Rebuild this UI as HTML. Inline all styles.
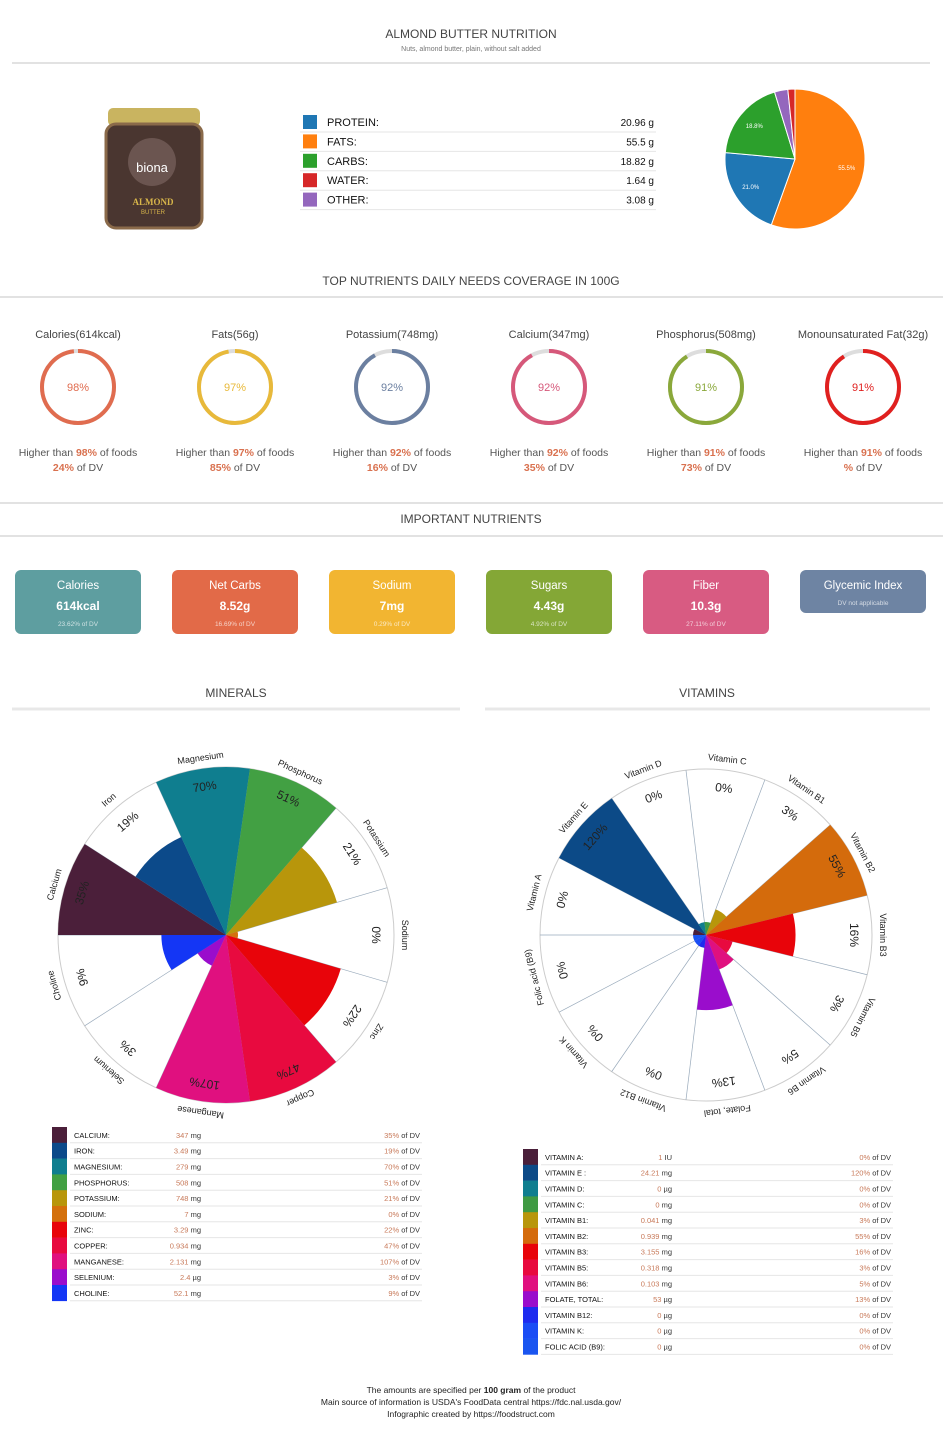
<!DOCTYPE html>
<html><head><meta charset="utf-8"><title>Almond Butter Nutrition</title>
<style>
html,body{margin:0;padding:0;background:#fff;}
svg{display:block;font-family:"Liberation Sans",sans-serif;}
</style></head>
<body>
<svg id="root" width="950" height="1435" viewBox="0 0 950 1435" xmlns="http://www.w3.org/2000/svg">
  <text x="471" y="38" text-anchor="middle" font-size="12" fill="#444">ALMOND BUTTER NUTRITION</text>
  <text x="471" y="51" text-anchor="middle" font-size="7" fill="#777">Nuts, almond butter, plain, without salt added</text>
  <line x1="12" y1="63" x2="930" y2="63" stroke="#e2e2e2" stroke-width="2"/>

  <g>
    <rect x="108" y="108" width="92" height="18" rx="5" fill="#c9b460"/>
    <rect x="106" y="124" width="96" height="104" rx="10" fill="#4a3630"/>
    <rect x="106" y="124" width="96" height="104" rx="10" fill="none" stroke="#8a6a4a" stroke-width="3"/>
    <circle cx="152" cy="162" r="24" fill="#6b5550"/>
    <text x="152" y="172" text-anchor="middle" font-size="13" fill="#fff">biona</text>
    <text x="153" y="205" text-anchor="middle" font-size="9" font-weight="bold" fill="#d8b64a" font-family="Liberation Serif, serif">ALMOND</text>
    <text x="153" y="214" text-anchor="middle" font-size="6" fill="#d8b64a">BUTTER</text>
  </g>

  <g id="macros"></g>
  <g id="pie"></g>

  <text x="471" y="285" text-anchor="middle" font-size="12" fill="#444">TOP NUTRIENTS DAILY NEEDS COVERAGE IN 100G</text>
  <line x1="0" y1="297" x2="943" y2="297" stroke="#e2e2e2" stroke-width="2"/>
  <g id="rings"></g>
  <line x1="0" y1="503" x2="943" y2="503" stroke="#e2e2e2" stroke-width="2"/>

  <text x="471" y="523" text-anchor="middle" font-size="12" fill="#444">IMPORTANT NUTRIENTS</text>
  <line x1="0" y1="536" x2="943" y2="536" stroke="#e2e2e2" stroke-width="2"/>
  <g id="cards"></g>

  <text x="236" y="697" text-anchor="middle" font-size="12" fill="#444">MINERALS</text>
  <line x1="12" y1="709" x2="460" y2="709" stroke="#e8e8e8" stroke-width="3"/>
  <text x="707" y="697" text-anchor="middle" font-size="12" fill="#444">VITAMINS</text>
  <line x1="485" y1="709" x2="930" y2="709" stroke="#e8e8e8" stroke-width="3"/>

  <g id="minPolar"></g>
  <g id="vitPolar"></g>
  <g id="minTable"></g>
  <g id="vitTable"></g>

  <g font-size="8.5" fill="#222" text-anchor="middle">
    <text x="471" y="1393">The amounts are specified per <tspan font-weight="bold">100 gram</tspan> of the product</text>
    <text x="471" y="1405">Main source of information is USDA's FoodData central https://fdc.nal.usda.gov/</text>
    <text x="471" y="1417">Infographic created by https://foodstruct.com</text>
  </g>
</svg>
<script>
const NS = "http://www.w3.org/2000/svg";
// ---- data ----
const macroNames = ["PROTEIN:", "FATS:", "CARBS:", "WATER:", "OTHER:"];
const macroValues = [20.96, 55.5, 18.82, 1.64, 3.08];
const macroColors = ["#1f77b4", "#ff7f0e", "#2ca02c", "#d62728", "#9467bd"];
const pieOrder = [1, 0, 2, 4, 3];

const ringTitles = ["Calories(614kcal)", "Fats(56g)", "Potassium(748mg)", "Calcium(347mg)", "Phosphorus(508mg)", "Monounsaturated Fat(32g)"];
const ringPercents = [98, 97, 92, 92, 91, 91];
const ringDV = ["24%", "85%", "16%", "35%", "73%", "%"];
const ringColors = ["#e06c4f", "#e8b93a", "#6b7fa0", "#d6587a", "#8aa83a", "#e0201f"];

const cardTitles = ["Calories", "Net Carbs", "Sodium", "Sugars", "Fiber", "Glycemic Index"];
const cardValues = ["614kcal", "8.52g", "7mg", "4.43g", "10.3g", ""];
const cardSubs = ["23.62% of DV", "16.69% of DV", "0.29% of DV", "4.92% of DV", "27.11% of DV", "DV not applicable"];
const cardColors = ["#5e9ea0", "#e26a48", "#f2b531", "#84a736", "#d85b82", "#6e84a3"];

const minNames = ["Calcium", "Iron", "Magnesium", "Phosphorus", "Potassium", "Sodium", "Zinc", "Copper", "Manganese", "Selenium", "Choline"];
const minPct = [35, 19, 70, 51, 21, 0, 22, 47, 107, 3, 9];
const minAmounts = ["347", "3.49", "279", "508", "748", "7", "3.29", "0.934", "2.131", "2.4", "52.1"];
const minUnits = ["mg", "mg", "mg", "mg", "mg", "mg", "mg", "mg", "mg", "µg", "mg"];
const minColors = ["#4b1f3a", "#0c4a8a", "#0f7e8f", "#42a043", "#b8960b", "#d4700c", "#e8040a", "#e80a3f", "#e0107f", "#9a0dcc", "#1436f5"];

const vitNames = ["Vitamin A", "Vitamin E", "Vitamin D", "Vitamin C", "Vitamin B1", "Vitamin B2", "Vitamin B3", "Vitamin B5", "Vitamin B6", "Folate, total", "Vitamin B12", "Vitamin K", "Folic acid (B9)"];
const vitTableNames = ["VITAMIN A:", "VITAMIN E :", "VITAMIN D:", "VITAMIN C:", "VITAMIN B1:", "VITAMIN B2:", "VITAMIN B3:", "VITAMIN B5:", "VITAMIN B6:", "FOLATE, TOTAL:", "VITAMIN B12:", "VITAMIN K:", "FOLIC ACID (B9):"];
const vitPct = [0, 120, 0, 0, 3, 55, 16, 3, 5, 13, 0, 0, 0];
const vitAmounts = ["1", "24.21", "0", "0", "0.041", "0.939", "3.155", "0.318", "0.103", "53", "0", "0", "0"];
const vitUnits = ["IU", "mg", "µg", "mg", "mg", "mg", "mg", "mg", "mg", "µg", "µg", "µg", "µg"];
const vitColors = ["#4a1f3a", "#0c4a87", "#0f7e8f", "#3f9a43", "#b8960b", "#d46b0c", "#e8040a", "#e80a3f", "#e0107f", "#9a0dcc", "#1e2bef", "#1a4df5", "#1a55f0"];

function el(tag, attrs, parent, txt) {
  const e = document.createElementNS(NS, tag);
  for (const k in attrs) e.setAttribute(k, attrs[k]);
  if (txt !== undefined) e.textContent = txt;
  parent.appendChild(e);
  return e;
}

// ---- macros table ----
const mg = document.getElementById("macros");
macroNames.forEach((n, i) => {
  const y = 122 + i * 19.4;
  const sw = el("rect", {x: 303, y: y - 7, width: 14, height: 14, fill: macroColors[i]}, mg);
  
  
  const t = el("text", {x: 327, y: y + 4, "font-size": 11, fill: "#111"}, mg, n);
  
  
  const v = el("text", {x: 654, y: y + 4, "font-size": 10, fill: "#111", "text-anchor": "end"}, mg, macroValues[i] + " g");
  
  
  const l = el("line", {x1: 300, x2: 656, y1: y + 10, y2: y + 10, stroke: "#e6e6e6"}, mg);
  
  
});

// ---- pie ----
const pg = document.getElementById("pie");
const pcx = 795, pcy = 159, pr = 70;
const total = macroValues.reduce((a, b) => a + b, 0);
let acc = 0;
function pp(a, r, cx, cy) { return [cx + r * Math.sin(a), cy - r * Math.cos(a)]; }
pieOrder.forEach(idx => {
  const a0 = acc / total * 2 * Math.PI;
  acc += macroValues[idx];
  const a1 = acc / total * 2 * Math.PI;
  const p0 = pp(a0, pr, pcx, pcy), p1 = pp(a1, pr, pcx, pcy);
  const large = (a1 - a0) > Math.PI ? 1 : 0;
  const s = el("path", {d: `M${pcx},${pcy} L${p0[0]},${p0[1]} A${pr},${pr} 0 ${large} 1 ${p1[0]},${p1[1]} Z`, fill: macroColors[idx], stroke: "#fff", "stroke-width": 1}, pg);
  
  
  const pct = macroValues[idx] / total * 100;
  if (pct > 10) {
    const lp = pp((a0 + a1) / 2, pr * 0.75, pcx, pcy);
    const t = el("text", {x: lp[0], y: lp[1] + 2, "font-size": 6, fill: "#fff", "text-anchor": "middle"}, pg, pct.toFixed(1) + "%");
    
    
  }
});

// ---- rings ----
const rg = document.getElementById("rings");
ringTitles.forEach((t, i) => {
  const cx = 78 + i * 157, cy = 387, r = 36;
  const tt = el("text", {x: cx, y: 338, "font-size": 11, fill: "#444", "text-anchor": "middle"}, rg, t);
  
  
  const bg = el("circle", {cx, cy, r, fill: "none", stroke: "#ddd", "stroke-width": 4}, rg);
  
  
  const c = 2 * Math.PI * r;
  const arc = el("circle", {cx, cy, r, fill: "none", stroke: ringColors[i], "stroke-width": 4,
    "stroke-dasharray": `${c * ringPercents[i] / 100} ${c}`, transform: `rotate(-90 ${cx} ${cy}) translate(0 0)`}, rg);
  
  
  // start slightly after top like reference (gap at top-left)
  arc.setAttribute("transform", `rotate(${-90 + 360 * (100 - ringPercents[i]) / 100 * 0} ${cx} ${cy})`);
  const pt = el("text", {x: cx, y: cy + 4, "font-size": 11, fill: ringColors[i], "text-anchor": "middle"}, rg, ringPercents[i] + "%");
  
  
  const h = el("text", {x: cx, y: 456, "font-size": 10.5, fill: "#555", "text-anchor": "middle"}, rg);
  h.innerHTML = `Higher than <tspan fill="#d9714f" font-weight="bold">${ringPercents[i]}%</tspan> of foods`;
  
  
  const d = el("text", {x: cx, y: 471, "font-size": 10.5, fill: "#555", "text-anchor": "middle"}, rg);
  d.innerHTML = `<tspan fill="#d9714f" font-weight="bold">${ringDV[i]}</tspan> of DV`;
  
  
});

// ---- cards ----
const cg = document.getElementById("cards");
cardTitles.forEach((t, i) => {
  const x = 15 + i * 157, h = i === 5 ? 43 : 64;
  const r = el("rect", {x, y: 570, width: 126, height: h, rx: 6, fill: cardColors[i]}, cg);
  
  
  const a = el("text", {x: x + 63, y: 589, "font-size": 11.5, fill: "#fff", "text-anchor": "middle"}, cg, t);
  
  
  if (cardValues[i]) {
    const b = el("text", {x: x + 63, y: 610, "font-size": 12, "font-weight": "bold", fill: "#fff", "text-anchor": "middle"}, cg, cardValues[i]);
    
    
  }
  const c = el("text", {x: x + 63, y: i === 5 ? 605 : 626, "font-size": 6.5, fill: "rgba(255,255,255,0.7)", "text-anchor": "middle"}, cg, cardSubs[i]);
  
  
});

// ---- polar charts ----
function polar(g, cx, cy, R, names, pcts, colors, rScale) {
  const n = names.length, step = 2 * Math.PI / n, start = 1.5 * Math.PI;
  const circ = el("circle", {cx, cy, r: R, fill: "none", stroke: "#ccc", "stroke-width": 1}, g);
  
  
  for (let i = 0; i < n; i++) {
    const a = start + i * step, p = pp(a, R, cx, cy);
    const gl = el("line", {x1: cx, y1: cy, x2: p[0], y2: p[1], stroke: "#9ab", "stroke-width": 0.7}, g);
    
    
  }
  for (let i = 0; i < n; i++) {
    const a0 = start + i * step, a1 = a0 + step, r = rScale(pcts[i]);
    const p0 = pp(a0, r, cx, cy), p1 = pp(a1, r, cx, cy);
    const s = el("path", {d: `M${cx},${cy} L${p0[0]},${p0[1]} A${r},${r} 0 0 1 ${p1[0]},${p1[1]} Z`, fill: colors[i]}, g);
    
    
  }
  for (let i = 0; i < n; i++) {
    const am = start + (i + 0.5) * step, deg = am * 180 / Math.PI;
    const pn = pp(am, R + 8, cx, cy);
    const t = el("text", {x: pn[0], y: pn[1], "font-size": 9, fill: "#222", "text-anchor": "middle", transform: `rotate(${deg} ${pn[0]} ${pn[1]})`}, g, names[i]);
    
    
    const pv = pp(am, R - 18, cx, cy);
    const v = el("text", {x: pv[0], y: pv[1] + 4, "font-size": 12, fill: "#222", "text-anchor": "middle", transform: `rotate(${deg} ${pv[0]} ${pv[1]})`}, g, pcts[i] + "%");
    
    
  }
}
polar(document.getElementById("minPolar"), 226, 935, 168, minNames, minPct, minColors,
  v => 12 + 156 * Math.pow(Math.min(1, v / 35), 0.8));
polar(document.getElementById("vitPolar"), 706, 935, 166, vitNames, vitPct, vitColors,
  v => 13 + 153 * Math.min(1, v / 32));

// ---- tables ----
function table(g, x0, y0, rowH, labelX, valX, dvX, names, amounts, units, pcts, colors) {
  names.forEach((n, i) => {
    const y = y0 + i * rowH;
    const sw = el("rect", {x: x0, y, width: 15, height: rowH + 0.3, fill: colors[i]}, g);
    
    
    const t = el("text", {x: labelX, y: y + rowH / 2 + 3, "font-size": 7.5, fill: "#111"}, g, n);
    
    
    const v = el("text", {x: valX, y: y + rowH / 2 + 3, "font-size": 7.5, fill: "#333", "text-anchor": "end"}, g);
    v.innerHTML = `<tspan fill="#c87a5a">${amounts[i]}</tspan> ${units[i]}`;
    
    
    const d = el("text", {x: dvX, y: y + rowH / 2 + 3, "font-size": 7.5, fill: "#333", "text-anchor": "end"}, g);
    d.innerHTML = `<tspan fill="#c87a5a">${pcts[i]}%</tspan> of DV`;
    
    
    const l = el("line", {x1: labelX - 4, x2: dvX + 2, y1: y + rowH, y2: y + rowH, stroke: "#e6e6e6"}, g);
    
    
  });
}
table(document.getElementById("minTable"), 52, 1127, 15.8, 74, 201, 420,
  minNames.map(n => n.toUpperCase() + ":"), minAmounts, minUnits, minPct, minColors);
table(document.getElementById("vitTable"), 523, 1149, 15.8, 545, 672, 891,
  vitTableNames, vitAmounts, vitUnits, vitPct, vitColors);
</script>
</body></html>
